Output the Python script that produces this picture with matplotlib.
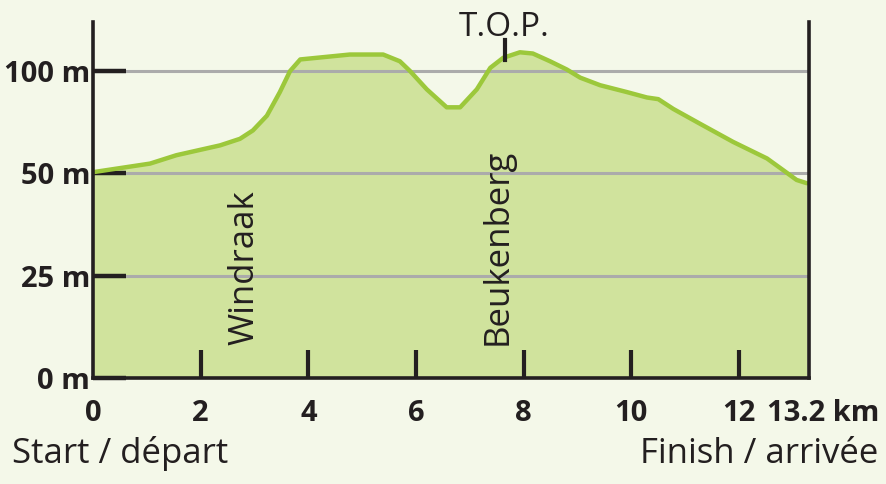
import numpy as np
import matplotlib
matplotlib.use("Agg")
import matplotlib.pyplot as plt
import matplotlib.transforms as mtransforms

# ============================================================
# DATA
# ============================================================

dist_km = [0.0, 1.06, 1.55, 2.36, 2.73, 2.97, 3.23, 3.47, 3.66, 3.85,
           4.77, 5.39, 5.70, 5.89, 6.20, 6.57, 6.82, 7.13, 7.38, 7.62,
           7.93, 8.17, 8.49, 8.80, 9.05, 9.42, 9.91, 10.29, 10.50, 10.78,
           11.28, 11.89, 12.52, 12.82, 13.07, 13.26]

elev_m = [50.6, 54.8, 58.9, 63.7, 66.9, 71.0, 78.2, 89.7, 100.0, 105.7,
          108.1, 108.1, 104.8, 100.0, 91.1, 82.3, 82.3, 91.1, 101.6, 106.5,
          109.2, 108.6, 104.8, 100.8, 96.8, 93.1, 89.8, 87.1, 86.3, 81.5,
          74.2, 65.4, 57.3, 51.6, 48.4, 47.6]

x_ticks = [0, 2, 4, 6, 8, 10, 12]
y_ticks = [0, 25, 50, 100]
y_labels = ["0 m", "25 m", "50 m", "100 m"]

climbs = ["Windraak", "Beukenberg"]
climb_km = [2.81, 7.51]

top_km = 7.65

# ============================================================
# STYLE
# ============================================================

BG = "#F4F8E9"
FILL = "#D0E39D"
LINE = "#9CC83B"
GRID = "#ABABAB"
INK = "#231F20"

plt.rcParams["font.family"] = ["Open Sans", "DejaVu Sans"]


# y axis: 0-25-50 and 50-100 get the same height
def fwd(y):
    y = np.asarray(y, dtype=float)
    return np.where(y <= 50, y / 25.0, 2 + (y - 50) / 50.0)


def inv(u):
    u = np.asarray(u, dtype=float)
    return np.where(u <= 2, u * 25.0, 50 + (u - 2) * 50.0)


fig = plt.figure(figsize=(8.87, 4.84), dpi=100, facecolor=BG)
ax = fig.add_axes([93 / 887, 106 / 484, 716 / 887, 356 / 484])
ax.set_facecolor(BG)
ax.set_axisbelow(False)

ax.set_yscale("function", functions=(fwd, inv))
ax.set_xlim(0, 13.3)
ax.set_ylim(0, 124)

# profile
ax.fill_between(dist_km, elev_m, 0, color=FILL, lw=0, zorder=1)
for yv in y_ticks[1:]:
    ax.axhline(yv, color=GRID, lw=2.2, zorder=2)
ax.plot(dist_km, elev_m, color=LINE, lw=3.2, zorder=3, solid_capstyle="round")

# spines
for side in ["left", "right", "bottom"]:
    ax.spines[side].set_color(INK)
    ax.spines[side].set_linewidth(2.6)
    ax.spines[side].set_zorder(5)
ax.spines["top"].set_visible(False)

# ticks
ax.set_xticks(x_ticks)
ax.set_xticklabels([str(v) for v in x_ticks], fontsize=21, fontweight="bold",
                   color=INK)
ax.set_yticks(y_ticks)
ax.set_yticklabels(y_labels, fontsize=21, fontweight="bold", color=INK)
ax.tick_params(axis="x", direction="in", length=20, width=3, color=INK,
               pad=15)
ax.tick_params(axis="y", direction="in", length=24, width=3.2, color=INK,
               pad=2)
ax.minorticks_off()
ax.xaxis.get_major_ticks()[0].tick1line.set_visible(False)

# climbs
trans = mtransforms.blended_transform_factory(ax.transData, ax.transAxes)
for name, km in zip(climbs, climb_km):
    ax.text(km, 0.093, name, transform=trans, rotation=90, fontsize=25,
            ha="center", va="bottom", color=INK, zorder=6)

# T.O.P. marker
ax.plot([top_km, top_km], [0.893, 0.949], transform=trans, color=INK,
        lw=3, clip_on=False, zorder=6)
fig.text(504 / 887, 1 - 36 / 484, "T.O.P.", fontsize=24, ha="center",
         va="baseline", color=INK)

# distance labels
fig.text(767 / 887, 1 - 421 / 484, "13.2 km", fontsize=21, fontweight="bold",
         ha="left", va="baseline", color=INK)
fig.text(12 / 887, 1 - 463 / 484, "Start / départ", fontsize=25,
         ha="left", va="baseline", color=INK)
fig.text(878 / 887, 1 - 463 / 484, "Finish / arrivée", fontsize=25,
         ha="right", va="baseline", color=INK)

fig.savefig("out.png", dpi=100, facecolor=BG)
